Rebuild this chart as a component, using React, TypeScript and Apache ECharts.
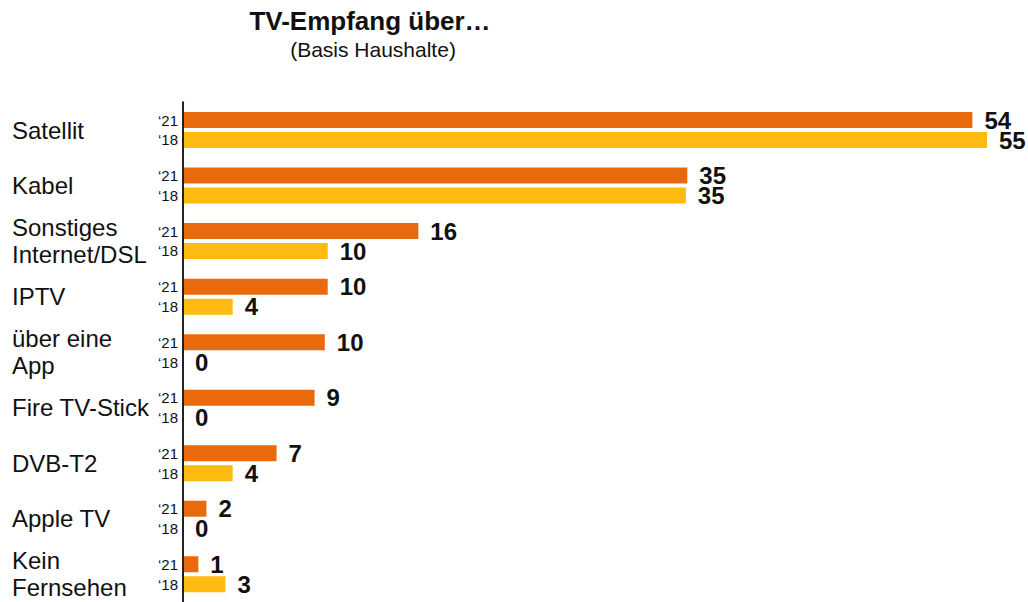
import React, { useEffect, useRef } from "react";
import * as echarts from "echarts";

const categories = [
  "Satellit",
  "Kabel",
  "Sonstiges\nInternet/DSL",
  "IPTV",
  "über eine\nApp",
  "Fire TV-Stick",
  "DVB-T2",
  "Apple TV",
  "Kein\nFernsehen",
];
// bar lengths
const values2021 = [54.0, 34.5, 16.1, 9.9, 9.7, 9.0, 6.4, 1.6, 1.05];
const values2018 = [55.0, 34.4, 9.9, 3.4, 0, 0, 3.4, 0, 2.9];
// printed value labels
const labels2021 = [54, 35, 16, 10, 10, 9, 7, 2, 1];
const labels2018 = [55, 35, 10, 4, 0, 0, 4, 0, 3];
const yearTicks = ["\u201821", "\u201818"];

const titleText = "TV-Empfang über…";
const subtitleText = "(Basis Haushalte)";

const FONT = '"Liberation Sans", Arial, Helvetica, sans-serif';

export default function App() {
  const ref = useRef<HTMLDivElement>(null);

  useEffect(() => {
    if (!ref.current) return;
    const chart = echarts.init(ref.current, null, { renderer: "svg" });
    const yearData = categories.flatMap(() => yearTicks);

    const valueLabel = (labels: number[]) => ({
      show: true,
      position: "right",
      distance: 12,
      fontFamily: FONT,
      fontSize: 24,
      fontWeight: "bold",
      color: "#111",
      formatter: (p: any) => String(labels[p.dataIndex]),
    });

    chart.setOption({
      animation: false,
      backgroundColor: "#fff",
      textStyle: { fontFamily: FONT },
      graphic: [
        {
          type: "text",
          x: 370,
          y: 21,
          style: {
            text: titleText,
            fontFamily: FONT,
            fontSize: 26,
            fontWeight: "bold",
            fill: "#111",
            textAlign: "center",
            textVerticalAlign: "middle",
          },
        },
        {
          type: "text",
          x: 373,
          y: 49,
          style: {
            text: subtitleText,
            fontFamily: FONT,
            fontSize: 21,
            fill: "#111",
            textAlign: "center",
            textVerticalAlign: "middle",
          },
        },
      ],
      grid: { left: 183, right: 41, top: 102.3, height: 503, containLabel: false },
      xAxis: {
        type: "value",
        min: 0,
        max: 55,
        show: false,
      },
      yAxis: [
        {
          type: "category",
          data: categories,
          inverse: true,
          z: 5,
          axisLine: { show: true, lineStyle: { color: "#222", width: 2 } },
          axisTick: { show: false },
          splitLine: { show: false },
          axisLabel: {
            align: "left",
            margin: 171,
            fontFamily: FONT,
            fontSize: 24,
            lineHeight: 27,
            color: "#111",
          },
        },
        {
          type: "category",
          data: yearData,
          inverse: true,
          position: "left",
          axisLine: { show: false },
          axisTick: { show: false },
          splitLine: { show: false },
          axisLabel: {
            margin: 5,
            fontFamily: FONT,
            fontSize: 15,
            color: "#111",
            formatter: (v: string, i: number) =>
              i % 2 === 0 ? `{a|${v}}` : `{b|${v}}`,
            rich: {
              a: { fontSize: 15, fontFamily: FONT, color: "#111", padding: [8, 0, 0, 0] },
              b: { fontSize: 15, fontFamily: FONT, color: "#111", padding: [0, 0, 8, 0] },
            },
          },
        },
      ],
      series: [
        {
          name: "2021",
          type: "bar",
          yAxisIndex: 0,
          data: values2021,
          barWidth: 16,
          barGap: "25%",
          itemStyle: { color: "#E96A0D" },
          label: valueLabel(labels2021),
        },
        {
          name: "2018",
          type: "bar",
          yAxisIndex: 0,
          data: values2018,
          barWidth: 16,
          barGap: "25%",
          itemStyle: { color: "#FDBA11" },
          label: valueLabel(labels2018),
        },
      ],
    });

    return () => chart.dispose();
  }, []);

  return (
    <div
      ref={ref}
      style={{ position: "fixed", left: 0, top: 0, width: 1028, height: 602 }}
    />
  );
}
